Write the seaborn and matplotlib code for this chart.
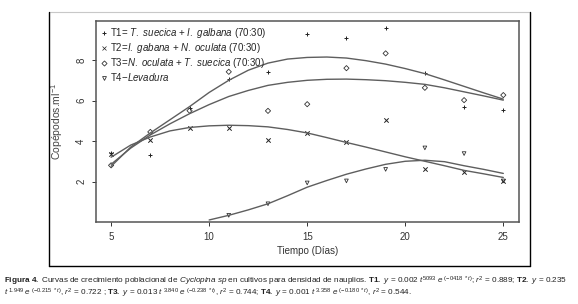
import matplotlib
matplotlib.use("Agg")
import matplotlib.pyplot as plt
from matplotlib.lines import Line2D
import pandas as pd
import seaborn as sns

# observed points (days, copepods/ml)
days = [5, 7, 9, 11, 13, 15, 17, 19, 21, 23, 25]
t1_obs = [3.41, 3.3, 5.65, 7.04, 7.42, 9.27, 9.1, 9.57, 7.37, 5.66, 5.52]
t2_obs = [3.35, 4.07, 4.65, 4.65, 4.04, 4.4, 3.96, 5.06, 2.64, 2.47, 2.03]
t3_obs = [2.8, 4.45, 5.5, 7.42, 5.49, 5.82, 7.6, 8.33, 6.63, 6.02, 6.27]
t4_days = [11, 13, 15, 17, 19, 21, 23, 25]
t4_obs = [0.33, 0.9, 1.93, 2.03, 2.6, 3.66, 3.38, 2.03]

# fitted curves
curve_days = list(range(5, 26))
t1_fit = [2.75, 3.7, 4.4, 5.05, 5.7, 6.4, 7.0, 7.5, 7.85, 8.05, 8.13, 8.15, 8.1,
          7.97, 7.8, 7.58, 7.33, 7.02, 6.7, 6.38, 6.07]
t3_fit = [2.85, 3.65, 4.3, 4.85, 5.35, 5.8, 6.2, 6.5, 6.75, 6.9, 7.0, 7.05, 7.06,
          7.03, 6.98, 6.9, 6.8, 6.63, 6.43, 6.23, 6.02]
t2_fit = [3.2, 3.8, 4.2, 4.5, 4.67, 4.75, 4.78, 4.76, 4.7, 4.57, 4.4, 4.17, 3.93,
          3.7, 3.46, 3.22, 3.0, 2.78, 2.55, 2.38, 2.2]
t4_curve_days = list(range(10, 26))
t4_fit = [0.1, 0.33, 0.6, 0.9, 1.3, 1.72, 2.05, 2.36, 2.62, 2.85, 3.0, 3.05,
          2.98, 2.78, 2.6, 2.4]

labels = [r"T1= $\it{T.\ suecica}$ + $\it{I.\ galbana}$ (70:30)",
          r"T2=$\it{I.\ gabana}$ + $\it{N.\ oculata}$ (70:30)",
          r"T3=$\it{N.\ oculata}$ + $\it{T.\ suecica}$ (70:30)",
          r"T4$-\it{Levadura}$"]

sns.set_style("white")
plt.rcParams["font.family"] = ["Liberation Sans", "DejaVu Sans"]
plt.rcParams["mathtext.fontset"] = "custom"
plt.rcParams["mathtext.rm"] = "Liberation Sans"
plt.rcParams["mathtext.it"] = "Liberation Sans:italic"
plt.rcParams["mathtext.bf"] = "Liberation Sans:bold"

fig = plt.figure(figsize=(5.78, 3.04), dpi=100)
ax = fig.add_axes([96 / 578, 1 - 222 / 304, 423 / 578, 201 / 304])

line_col = "#5e5e5e"
fits = pd.concat([
    pd.DataFrame({"dia": curve_days, "val": t1_fit, "trat": "T1"}),
    pd.DataFrame({"dia": curve_days, "val": t3_fit, "trat": "T3"}),
    pd.DataFrame({"dia": curve_days, "val": t2_fit, "trat": "T2"}),
    pd.DataFrame({"dia": t4_curve_days, "val": t4_fit, "trat": "T4"}),
])
sns.lineplot(data=fits, x="dia", y="val", units="trat", estimator=None,
             color=line_col, lw=1.0, ax=ax, legend=False)

marks = {"T1": "+", "T2": "x", "T3": "D", "T4": "v"}
obs = {"T1": (days, t1_obs), "T2": (days, t2_obs), "T3": (days, t3_obs),
       "T4": (t4_days, t4_obs)}
for k, (xx, yy) in obs.items():
    df = pd.DataFrame({"dia": xx, "val": yy})
    if marks[k] in ("+", "x"):
        sns.scatterplot(data=df, x="dia", y="val", marker=marks[k], s=10,
                        color="#222222", linewidth=0.7, ax=ax)
    else:
        sns.scatterplot(data=df, x="dia", y="val", marker=marks[k], s=7,
                        facecolor="none", edgecolor="#333333", linewidth=0.6, ax=ax)

ax.set_xlim(4.23, 25.8)
ax.set_ylim(0, 9.93)
ax.set_xticks([5, 10, 15, 20, 25])
ax.set_yticks([2, 4, 6, 8])
ax.set_yticklabels(["2", "4", "6", "8"], rotation=90, va="center")
ax.tick_params(axis="both", labelsize=7, colors="#333333", length=3,
               width=0.7, direction="out", bottom=True, left=True, pad=4)
ax.set_xlabel("Tiempo (Días)", fontsize=7, color="#333333", labelpad=3)
ax.set_ylabel(r"Copépodos.ml$^{-1}$", fontsize=7.5, color="#444444", labelpad=8)
for sp in ax.spines.values():
    sp.set_color("#555555")
    sp.set_linewidth(1.1)

handles = [
    Line2D([], [], marker="+", ls="none", color="#222222", ms=3.5, mew=0.7),
    Line2D([], [], marker="x", ls="none", color="#222222", ms=3.5, mew=0.5),
    Line2D([], [], marker="D", ls="none", mfc="none", mec="#333333", ms=2.6, mew=0.6),
    Line2D([], [], marker="v", ls="none", mfc="none", mec="#333333", ms=2.8, mew=0.6),
]
ax.legend(handles, labels, loc="upper left", frameon=False, fontsize=7,
          handlelength=0.5, handletextpad=0.35, labelspacing=0.1,
          borderaxespad=0.3, borderpad=0.25)

# outer frame of the figure panel
fig.add_artist(Line2D([49 / 578, 530 / 578], [1 - 12 / 304, 1 - 12 / 304],
                      transform=fig.transFigure, color="#c8c8c8", lw=0.8))
for xs, ys in [([49, 49], [12, 266]), ([530, 530], [12, 266]), ([49, 530], [266, 266])]:
    fig.add_artist(Line2D([x / 578 for x in xs], [1 - y / 304 for y in ys],
                          transform=fig.transFigure, color="black", lw=1.0))

cap1 = (r"$\mathbf{Figura\ 4.}$ Curvas de crecimiento poblacional de $\it{Cyclopina\ sp}$ en cultivos "
        r"para densidad de nauplios. $\mathbf{T1.}$ $\it{y}$ = $\it{0.002\ t}^{5093}$ $\it{e}^{\ (-0418\ *t)}$; "
        r"$\it{r}^2$ = 0.889; $\mathbf{T2.}$ $\it{y}$ = $\it{0.235}$")
cap2 = (r"$\it{t}^{\ 1.949}$ $\it{e}^{\ (-0.215\ *t)}$, $\it{r}^2$ = 0.722 ; $\mathbf{T3.}$ $\it{y}$ = $\it{0.013\ t}^{\ 3.840}$ "
        r"$\it{e}^{\ (-0.238\ *t)}$, $\it{r}^2$ = 0.744; $\mathbf{T4.}$ $\it{y}$ = $\it{0.001\ t}^{\ 3.358}$ "
        r"$\it{e}^{\ (-0.180\ *t)}$, $\it{r}^2$ = 0.544.")
fig.text(4 / 578, 1 - 281 / 304, cap1, fontsize=5.9, va="center", ha="left", color="#222222")
fig.text(4 / 578, 1 - 293 / 304, cap2, fontsize=5.9, va="center", ha="left", color="#222222")

fig.savefig("out.png", dpi=100)
